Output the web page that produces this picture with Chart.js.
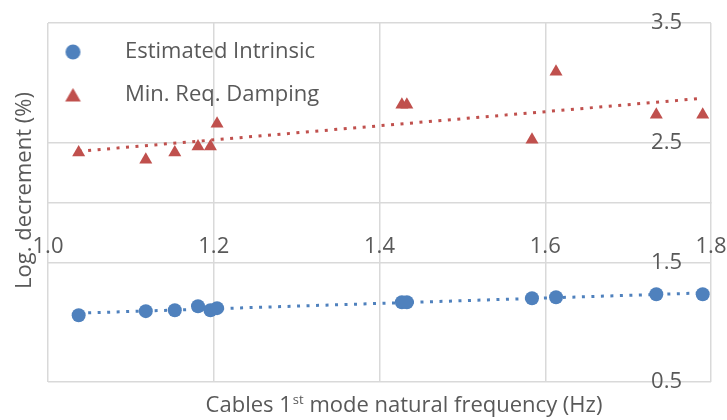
<!DOCTYPE html>
<html>
<head>
<meta charset="utf-8">
<script src="https://cdn.jsdelivr.net/npm/chart.js@4.4.1/dist/chart.umd.min.js"></script>
<style>
  body { margin: 0; background: #fff; }
  #wrap { width: 727px; height: 420px; }
</style>
</head>
<body>
<div id="wrap"><canvas id="chart" width="727" height="420"></canvas></div>
<script>
// natural frequency of each cable (Hz)
var freq = [1.037, 1.118, 1.153, 1.181, 1.196, 1.204, 1.427, 1.433, 1.584, 1.613, 1.734, 1.790];
// log. decrement (%)
var intrinsic = [1.058, 1.092, 1.100, 1.133, 1.100, 1.117, 1.167, 1.167, 1.200, 1.208, 1.233, 1.233];
var minReq = [2.417, 2.358, 2.417, 2.467, 2.467, 2.658, 2.817, 2.817, 2.525, 3.092, 2.733, 2.733];

var seriesNames = ["Estimated Intrinsic", "Min. Req. Damping"];
var xTicks = [1.0, 1.2, 1.4, 1.6, 1.8];
var yTicks = [0.5, 1.5, 2.5, 3.5];

var blue = "#4f81bd";
var red = "#c0504d";
var textColor = "#595959";
var gridColor = "#d9d9d9";
var fontFamily = "'Open Sans', sans-serif";

function points(xs, ys) {
  return xs.map(function(x, i) { return { x: x, y: ys[i] }; });
}

// linear trendline (least squares) from first to last x
function trend(xs, ys) {
  var n = xs.length, mx = 0, my = 0;
  for (var i = 0; i < n; i++) { mx += xs[i]; my += ys[i]; }
  mx /= n; my /= n;
  var sxy = 0, sxx = 0;
  for (var i = 0; i < n; i++) {
    sxy += (xs[i] - mx) * (ys[i] - my);
    sxx += (xs[i] - mx) * (xs[i] - mx);
  }
  var b = sxy / sxx, a = my - b * mx;
  var x0 = Math.min.apply(null, xs), x1 = Math.max.apply(null, xs);
  return [{ x: x0, y: a + b * x0 }, { x: x1, y: a + b * x1 }];
}

// legend markers, drawn left of the box centre so the text keeps its gap
function legendMarker(kind, color) {
  var c = document.createElement("canvas");
  c.width = 64; c.height = 24;
  var g = c.getContext("2d");
  g.fillStyle = color;
  g.beginPath();
  if (kind === "circle") {
    g.arc(13.5, 12, 7.5, 0, Math.PI * 2);
  } else {
    var r = 9, cx = 13.5, cy = 14;
    g.moveTo(cx, cy - r);
    g.lineTo(cx + r * Math.sin(Math.PI / 3), cy + r / 2);
    g.lineTo(cx - r * Math.sin(Math.PI / 3), cy + r / 2);
    g.closePath();
  }
  g.fill();
  return c;
}
var markers = [legendMarker("circle", blue), legendMarker("triangle", red)];

// axis titles, placed like the original (the x title sits a bit right of centre)
var axisTitles = {
  id: "axisTitles",
  afterDraw: function(chart) {
    var ctx = chart.ctx, area = chart.chartArea;
    ctx.save();
    ctx.fillStyle = textColor;
    ctx.textBaseline = "alphabetic";
    ctx.textAlign = "left";
    var big = "22px " + fontFamily, small = "13px " + fontFamily;
    var p1 = "Cables 1", p2 = "st", p3 = " mode natural frequency (Hz)";
    ctx.font = big;
    var w1 = ctx.measureText(p1).width, w3 = ctx.measureText(p3).width;
    ctx.font = small;
    var w2 = ctx.measureText(p2).width;
    var cx = (area.left + area.right) / 2 + 24;
    var x = cx - (w1 + w2 + w3) / 2, base = 412;
    ctx.font = big; ctx.fillText(p1, x, base);
    ctx.font = small; ctx.fillText(p2, x + w1 + 1, base - 8);
    ctx.font = big; ctx.fillText(p3, x + w1 + w2 + 1, base);

    ctx.translate(25, (area.top + area.bottom) / 2 - 12);
    ctx.rotate(-Math.PI / 2);
    ctx.textAlign = "center";
    ctx.textBaseline = "middle";
    ctx.font = "22px " + fontFamily;
    ctx.fillText("Log. decrement (%)", 0, 0);
    ctx.restore();
  }
};

var ctx = document.getElementById("chart").getContext("2d");
var chart = new Chart(ctx, {
  type: "scatter",
  data: {
    datasets: [
      {
        label: seriesNames[0],
        data: points(freq, intrinsic),
        pointStyle: "circle",
        pointRadius: 7,
        pointHoverRadius: 7,
        backgroundColor: blue,
        borderColor: blue,
        borderWidth: 0,
        order: 0
      },
      {
        label: seriesNames[1],
        data: points(freq, minReq),
        pointStyle: "triangle",
        pointRadius: 7.5,
        pointHoverRadius: 7.5,
        backgroundColor: red,
        borderColor: red,
        borderWidth: 0,
        order: 0
      },
      {
        type: "line",
        label: "trend1",
        data: trend(freq, intrinsic),
        borderColor: blue,
        borderWidth: 3,
        borderDash: [3, 6.5],
        pointRadius: 0,
        fill: false,
        order: 1
      },
      {
        type: "line",
        label: "trend2",
        data: trend(freq, minReq),
        borderColor: red,
        borderWidth: 3,
        borderDash: [3, 6.5],
        pointRadius: 0,
        fill: false,
        order: 1
      }
    ]
  },
  options: {
    responsive: false,
    animation: false,
    layout: { padding: { left: 48, top: 23, right: 16, bottom: 38 } },
    scales: {
      x: {
        type: "linear",
        position: { y: 2.0 },
        min: 1.0,
        max: 1.8,
        afterBuildTicks: function(s) { s.ticks = xTicks.map(function(v) { return { value: v }; }); },
        grid: { color: gridColor, lineWidth: 1.5, drawTicks: true, tickLength: 31, tickColor: "rgba(0,0,0,0)" },
        border: { color: gridColor, width: 1.5 },
        ticks: {
          padding: 0,
          color: textColor,
          font: { family: fontFamily, size: 22 },
          callback: function(v) { return Number(v).toFixed(1); }
        }
      },
      y: {
        type: "linear",
        // labels are right-aligned at this x value, just inside the right edge
        position: { x: 1.765 },
        min: 0.5,
        max: 3.5,
        afterBuildTicks: function(s) { s.ticks = yTicks.map(function(v) { return { value: v }; }); },
        grid: { color: gridColor, lineWidth: 1.5, drawTicks: false },
        border: { display: false },
        ticks: {
          padding: 0,
          color: textColor,
          font: { family: fontFamily, size: 22 },
          callback: function(v) { return Number(v).toFixed(1); }
        }
      }
    },
    plugins: {
      tooltip: { enabled: false },
      legend: {
        position: "chartArea",
        align: "start",
        title: { display: true, text: "", font: { size: 10 }, padding: 4 },
        labels: {
          usePointStyle: true,
          pointStyleWidth: 45,
          boxHeight: 11,
          padding: 21,
          color: textColor,
          font: { family: fontFamily, size: 22 },
          filter: function(item) { return item.datasetIndex < 2; },
          generateLabels: function(chart) {
            var items = Chart.defaults.plugins.legend.labels.generateLabels(chart);
            items.forEach(function(it) { it.pointStyle = markers[it.datasetIndex]; });
            return items;
          }
        }
      }
    }
  },
  plugins: [axisTitles]
});
</script>
</body>
</html>
